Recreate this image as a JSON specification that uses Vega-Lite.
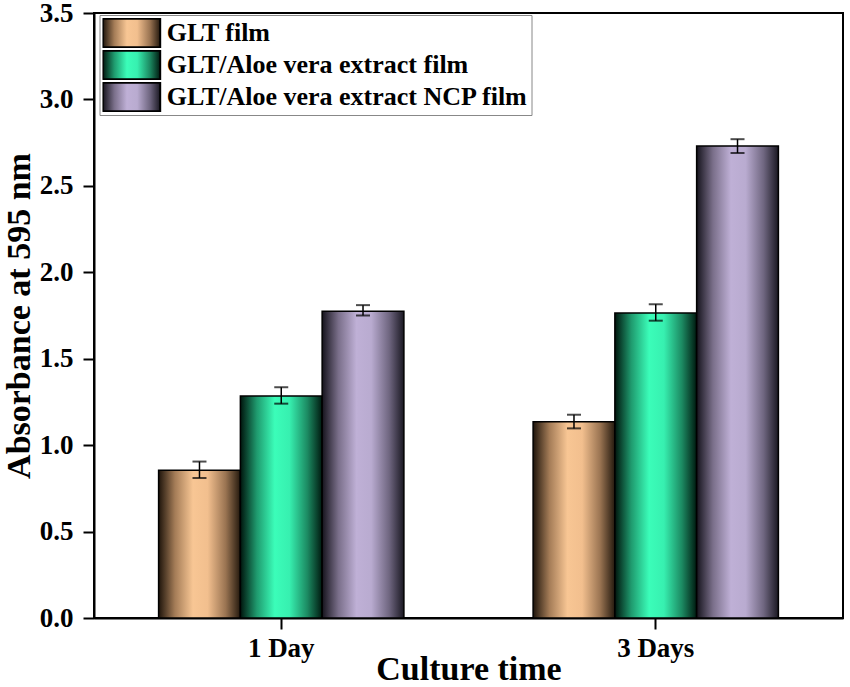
{
  "$schema": "https://vega.github.io/schema/vega-lite/v6.json",
  "width": 749,
  "height": 605,
  "autosize": "none",
  "padding": {"left": 94, "top": 13, "right": 7, "bottom": 69},
  "background": "white",
  "data": {
    "values": [
      {"day": "1 Day", "film": "GLT film", "value": 0.855, "lo": 0.81, "hi": 0.905},
      {"day": "1 Day", "film": "GLT/Aloe vera extract film", "value": 1.285, "lo": 1.24, "hi": 1.335},
      {"day": "1 Day", "film": "GLT/Aloe vera extract NCP film", "value": 1.775, "lo": 1.75, "hi": 1.81},
      {"day": "3 Days", "film": "GLT film", "value": 1.135, "lo": 1.097, "hi": 1.176},
      {"day": "3 Days", "film": "GLT/Aloe vera extract film", "value": 1.765, "lo": 1.72, "hi": 1.815},
      {"day": "3 Days", "film": "GLT/Aloe vera extract NCP film", "value": 2.73, "lo": 2.69, "hi": 2.77}
    ]
  },
  "encoding": {
    "x": {
      "field": "day", "type": "nominal",
      "scale": {"paddingInner": 0.345, "paddingOuter": 0.1725},
      "axis": {
        "title": "Culture time", "labelAngle": 0,
        "tickSize": 11, "tickWidth": 2, "domainWidth": 2,
        "labelPadding": 6, "labelFontSize": 27, "titleFontSize": 34,
        "titlePadding": -9
      }
    },
    "xOffset": {
      "field": "film", "type": "nominal",
      "sort": ["GLT film", "GLT/Aloe vera extract film", "GLT/Aloe vera extract NCP film"],
      "scale": {"paddingInner": 0, "paddingOuter": 0}
    },
    "y": {
      "field": "value", "type": "quantitative",
      "scale": {"domain": [0, 3.5], "nice": false},
      "axis": {
        "title": "Absorbance at 595 nm",
        "values": [0, 0.5, 1, 1.5, 2, 2.5, 3, 3.5],
        "format": ".1f", "grid": false,
        "tickSize": 11, "tickWidth": 2, "domainWidth": 2,
        "labelPadding": 10, "labelFontSize": 27, "titleFontSize": 34,
        "titlePadding": 3
      }
    }
  },
  "layer": [
    {
      "mark": {"type": "point", "opacity": 0},
      "encoding": {
        "shape": {
          "field": "film", "type": "nominal",
          "scale": {
            "domain": ["GLT film", "GLT/Aloe vera extract film", "GLT/Aloe vera extract NCP film"],
            "range": ["M-2,-1H2V1H-2Z", "M-2,-1H2V1H-2Z", "M-2,-1H2V1H-2Z"]
          },
          "legend": {
            "title": null, "orient": "none", "legendX": 5.5, "legendY": 2,
            "symbolSize": 824,
            "symbolOpacity": 1, "symbolStrokeColor": "black", "symbolStrokeWidth": 2,
            "symbolOffset": 13.5, "clipHeight": 30,
            "labelFontSize": 26, "labelFontWeight": "bold", "labelLimit": 500,
            "labelOffset": 19.7, "rowPadding": 2, "padding": 3,
            "strokeColor": "#888888", "fillColor": "white",
            "encoding": {
              "symbols": {
                "opacity": {"value": 1},
                "stroke": {"value": "black"},
                "strokeWidth": {"value": 2},
                "fill": {
                  "condition": [
                    {"test": "datum.label === 'GLT film'", "value": {"gradient": "linear", "x1": 0, "x2": 1, "y1": 0, "y2": 0, "stops": [
                      {"offset": 0, "color": "#1e140b"}, {"offset": 0.2, "color": "#a47c57"},
                      {"offset": 0.42, "color": "#f8c694"}, {"offset": 0.6, "color": "#f2bf8e"},
                      {"offset": 0.82, "color": "#9a7452"}, {"offset": 1, "color": "#24190e"}]}},
                    {"test": "datum.label === 'GLT/Aloe vera extract film'", "value": {"gradient": "linear", "x1": 0, "x2": 1, "y1": 0, "y2": 0, "stops": [
                      {"offset": 0, "color": "#00150d"}, {"offset": 0.2, "color": "#1f9a6e"},
                      {"offset": 0.42, "color": "#3bfdb9"}, {"offset": 0.6, "color": "#37f0b0"},
                      {"offset": 0.82, "color": "#1c8a62"}, {"offset": 1, "color": "#001a10"}]}}
                  ],
                  "value": {"gradient": "linear", "x1": 0, "x2": 1, "y1": 0, "y2": 0, "stops": [
                    {"offset": 0, "color": "#15131c"}, {"offset": 0.2, "color": "#7a6f8a"},
                    {"offset": 0.42, "color": "#bfb0d6"}, {"offset": 0.6, "color": "#b9abd0"},
                    {"offset": 0.82, "color": "#6f6680"}, {"offset": 1, "color": "#1a1822"}]}
                }
              }
            }
          }
        }
      }
    },
    {
      "mark": {"type": "bar", "stroke": "black", "strokeWidth": 1.5},
      "encoding": {
        "color": {
          "condition": [
            {"test": "datum.film === 'GLT film'", "value": {"gradient": "linear", "x1": 0, "x2": 1, "y1": 0, "y2": 0, "stops": [
              {"offset": 0, "color": "#1e140b"}, {"offset": 0.2, "color": "#a47c57"},
              {"offset": 0.42, "color": "#f8c694"}, {"offset": 0.6, "color": "#f2bf8e"},
              {"offset": 0.82, "color": "#9a7452"}, {"offset": 1, "color": "#24190e"}]}},
            {"test": "datum.film === 'GLT/Aloe vera extract film'", "value": {"gradient": "linear", "x1": 0, "x2": 1, "y1": 0, "y2": 0, "stops": [
              {"offset": 0, "color": "#00150d"}, {"offset": 0.2, "color": "#1f9a6e"},
              {"offset": 0.42, "color": "#3bfdb9"}, {"offset": 0.6, "color": "#37f0b0"},
              {"offset": 0.82, "color": "#1c8a62"}, {"offset": 1, "color": "#001a10"}]}}
          ],
          "value": {"gradient": "linear", "x1": 0, "x2": 1, "y1": 0, "y2": 0, "stops": [
            {"offset": 0, "color": "#15131c"}, {"offset": 0.2, "color": "#7a6f8a"},
            {"offset": 0.42, "color": "#bfb0d6"}, {"offset": 0.6, "color": "#b9abd0"},
            {"offset": 0.82, "color": "#6f6680"}, {"offset": 1, "color": "#1a1822"}]}
        }
      }
    },
    {
      "mark": {"type": "rule", "color": "black", "strokeWidth": 1.5},
      "encoding": {
        "y": {"field": "lo", "type": "quantitative"},
        "y2": {"field": "hi"}
      }
    },
    {
      "mark": {"type": "tick", "color": "black", "size": 14, "thickness": 2},
      "encoding": {"y": {"field": "lo", "type": "quantitative"}}
    },
    {
      "mark": {"type": "tick", "color": "black", "size": 14, "thickness": 2},
      "encoding": {"y": {"field": "hi", "type": "quantitative"}}
    }
  ],
  "config": {
    "font": "Liberation Serif",
    "view": {"stroke": "black", "strokeWidth": 2},
    "axis": {
      "labelFont": "Liberation Serif", "titleFont": "Liberation Serif",
      "labelFontWeight": "bold", "titleFontWeight": "bold",
      "labelColor": "black", "titleColor": "black",
      "domainColor": "black", "tickColor": "black"
    },
    "legend": {"labelFont": "Liberation Serif", "labelColor": "black"}
  }
}
